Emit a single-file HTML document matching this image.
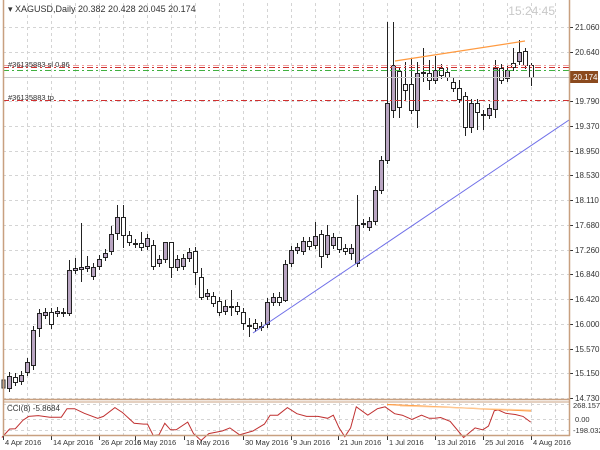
<!DOCTYPE html>
<html><head><meta charset="utf-8"><style>
html,body{margin:0;padding:0;background:#fff;}
svg{display:block;font-family:"Liberation Sans",sans-serif;}
</style></head><body>
<svg id="c" width="600" height="450" xmlns="http://www.w3.org/2000/svg">
<rect width="600" height="450" fill="#fff"/>
<g id="grid" stroke="#d4d4d4" stroke-dasharray="3,3" stroke-width="1"></g>
<g id="cand"></g>
<g id="misc"></g>
<line x1="3.5" y1="0" x2="3.5" y2="436" stroke="#c8a080" stroke-width="1.5"/>
<line x1="569.5" y1="0" x2="569.5" y2="436" stroke="#c8a080" stroke-width="1.5"/>
<line x1="3" y1="399.5" x2="570" y2="399.5" stroke="#c8a080" stroke-width="1.5"/>
<line x1="3" y1="402" x2="570" y2="402" stroke="#c8a080" stroke-width="1"/>
<line x1="3" y1="435.5" x2="570" y2="435.5" stroke="#c8a080" stroke-width="1.5"/>
<text x="8" y="12" font-size="9" fill="#333">▾ XAGUSD,Daily  20.382 20.428 20.045 20.174</text>
<text x="555" y="15" font-size="12" fill="#c8c8c8" text-anchor="end">15:24:45</text>
<text x="8" y="67" font-size="7.5" fill="#333">#36135883 sl 0.86</text>
<text x="8" y="100" font-size="7.5" fill="#333">#36135883 tp</text>
<text x="7" y="411" font-size="8" fill="#333">CCI(8) -5.8684</text>
</svg>
<script>
var NS="http://www.w3.org/2000/svg";
function el(p,t,a,txt){var e=document.createElementNS(NS,t);for(var k in a)e.setAttribute(k,a[k]);if(txt!==undefined)e.textContent=txt;document.getElementById(p).appendChild(e);return e;}
for(var x=27;x<569;x+=24)el("grid","line",{x1:x+.5,y1:3,x2:x+.5,y2:399});
for(var x=27;x<569;x+=24)el("grid","line",{x1:x+.5,y1:403,x2:x+.5,y2:435});
var labs=["21.060","20.640","19.790","19.370","18.950","18.530","18.110","17.680","17.260","16.840","16.420","16.000","15.570","15.150","14.730"];
labs.forEach(function(l){var p=parseFloat(l);var y=Math.round(27+(21.06-p)*58.6);
 el("grid","line",{x1:3,y1:y+.5,x2:569,y2:y+.5});
 el("misc","line",{x1:569,y1:y+.5,x2:573,y2:y+.5,stroke:"#333"});
 el("misc","text",{x:575,y:y+3,"font-size":"8",fill:"#333"},l);});
[404,419,430].forEach(function(y){el("grid","line",{x1:3,y1:y+.5,x2:569,y2:y+.5});});
var d=[[376,388,1],[377,382,0],[375,381,1],[362,372,1],[330,365,1],[313,328,1],[312,315,1],[312,324,0],[311,313,1],[312,313,0],[270,313,1],[268,270,1],[267,269,1],[266,268,1],[267,276,1],[259,266,1],[253,257,1],[234,251,1],[217,233,1],[217,235,0],[235,242,0],[243,244,0],[243,247,0],[238,246,1],[245,266,0],[259,263,1],[242,259,1],[242,267,0],[259,267,1],[258,266,1],[252,258,1],[251,272,0],[277,297,0],[293,296,1],[296,303,0],[301,312,0],[306,311,1],[306,307,0],[306,311,0],[312,323,0],[325,326,0],[323,328,0],[326,327,0],[302,324,1],[297,302,1],[297,302,0],[264,300,1],[250,263,1],[247,250,1],[241,251,1],[241,246,0],[236,245,1],[234,256,0],[235,254,1],[237,245,1],[237,249,0],[248,251,0],[248,253,1],[225,263,1],[223,224,1],[221,227,1],[190,221,1],[160,190,1],[103,160,1],[65,110,1],[71,107,0],[84,90,0],[84,110,0],[73,110,1],[72,73,1],[73,80,0],[70,80,1],[68,75,0],[72,77,0],[82,88,0],[88,99,0],[96,127,0],[103,127,1],[103,112,0],[114,115,0],[108,115,1],[68,109,1],[68,80,0],[70,78,1],[63,67,0],[52,61,1],[51,65,0],[65,77,0]];
var wt={4:326,10:260,11:258,12:223,13:256,17:226,18:205,19:205,22:232,24:240,26:242,27:242,32:268,36:300,37:290,40:318,45:292,51:222,53:225,55:240,58:195,63:22,64:22,66:62,67:58,68:62,69:48,70:60,71:56,75:80,81:60,84:48,85:40,86:48,87:63};
var wb={0:392,4:370,5:337,7:329,10:316,12:282,17:255,18:240,19:248,24:270,27:278,31:285,32:300,35:316,37:316,39:330,40:337,43:328,46:302,52:268,57:260,64:118,65:118,66:100,68:128,69:82,70:90,76:136,77:133,78:130,79:130,81:118,87:86};
el("cand","line",{x1:3.5,y1:370,x2:3.5,y2:392,stroke:"#222"});
el("cand","rect",{x:2,y:380,width:3,height:8,fill:"#fff",stroke:"#222"});
d.forEach(function(c,i){var x=9+6*i;var t=wt[i]!==undefined?wt[i]:c[0]-4;var b=wb[i]!==undefined?wb[i]:c[1]+4;
 el("cand","line",{x1:x+.5,y1:t,x2:x+.5,y2:b,stroke:"#222"});
 var h=Math.max(1,c[1]-c[0]);
 el("cand","rect",{x:x-1.5,y:c[0]+.5,width:4,height:h,fill:c[2]?"#b9a5c2":"#fff",stroke:"#222","stroke-width":"1"});});
var m="misc";
el(m,"line",{x1:253,y1:333,x2:569,y2:120,stroke:"#6f6fe8","stroke-width":"1"});
el(m,"line",{x1:395,y1:61,x2:525,y2:41,stroke:"#ff9a40","stroke-width":"1.2"});
el(m,"line",{x1:3,y1:65.5,x2:569,y2:65.5,stroke:"#f0a0a0","stroke-dasharray":"6,3,2,3"});
el(m,"line",{x1:3,y1:67.5,x2:569,y2:67.5,stroke:"#d03030","stroke-dasharray":"6,3,2,3"});
el(m,"line",{x1:3,y1:70.5,x2:569,y2:70.5,stroke:"#40b040","stroke-dasharray":"6,3,2,3"});
el(m,"line",{x1:3,y1:100.5,x2:569,y2:100.5,stroke:"#d03030","stroke-dasharray":"6,3,2,3"});
el(m,"line",{x1:3,y1:77.5,x2:569,y2:77.5,stroke:"#c8c8c8"});
el(m,"rect",{x:570,y:71,width:28,height:12,fill:"#8b4a1e"});
el(m,"text",{x:573,y:80,"font-size":"8",fill:"#fff"},"20.174");
var pts=[[5,150],[25,128],[40,127],[60,105],[75,95],[100,93],[130,97],[160,97],[175,75],[195,75],[220,87],[255,100],[270,95],[300,72],[320,85],[350,113],[375,115],[385,115],[400,145],[415,143],[430,113],[445,130],[460,130],[490,110],[505,140],[525,158],[545,140],[580,133],[600,125],[625,143],[660,133],[690,115],[705,92],[725,92],[750,72],[775,88],[800,95],[830,95],[855,100],[870,92],[885,125],[900,148],[915,125],[930,70],[960,92],[985,75],[1005,70],[1030,88],[1050,92],[1075,103],[1100,92],[1120,100],[1135,100],[1150,98],[1175,108],[1210,150],[1240,125],[1260,130],[1275,120],[1290,80],[1300,78],[1320,87],[1345,90],[1365,95],[1385,110]];
el(m,"polyline",{points:pts.map(function(p){return (p[0]/2.61).toFixed(1)+","+(380+p[1]/2.61).toFixed(1);}).join(" "),fill:"none",stroke:"#c03030","stroke-width":"1"});
el(m,"line",{x1:387,y1:404.5,x2:531,y2:411,stroke:"#ff9a40","stroke-width":"1.2"});
el(m,"line",{x1:400,y1:406,x2:531,y2:410,stroke:"#ffd0a0","stroke-width":"1"});
el(m,"text",{x:573,y:408,"font-size":"7.5",fill:"#333"},"268.1579");
el(m,"text",{x:575,y:422,"font-size":"7.5",fill:"#333"},"0.00");
el(m,"text",{x:573,y:433,"font-size":"7.5",fill:"#333"},"-198.032");
[["4 Apr 2016",3],["14 Apr 2016",51],["26 Apr 2016",99],["6 May 2016",135],["18 May 2016",184],["30 May 2016",243],["9 Jun 2016",291],["21 Jun 2016",338],["1 Jul 2016",387],["13 Jul 2016",435],["25 Jul 2016",483],["4 Aug 2016",531]].forEach(function(a){
 el(m,"line",{x1:a[1]+.5,y1:436,x2:a[1]+.5,y2:440,stroke:"#333"});
 el(m,"text",{x:a[1]+2,y:445,"font-size":"7.5",fill:"#333"},a[0]);});
</script>
</body></html>
